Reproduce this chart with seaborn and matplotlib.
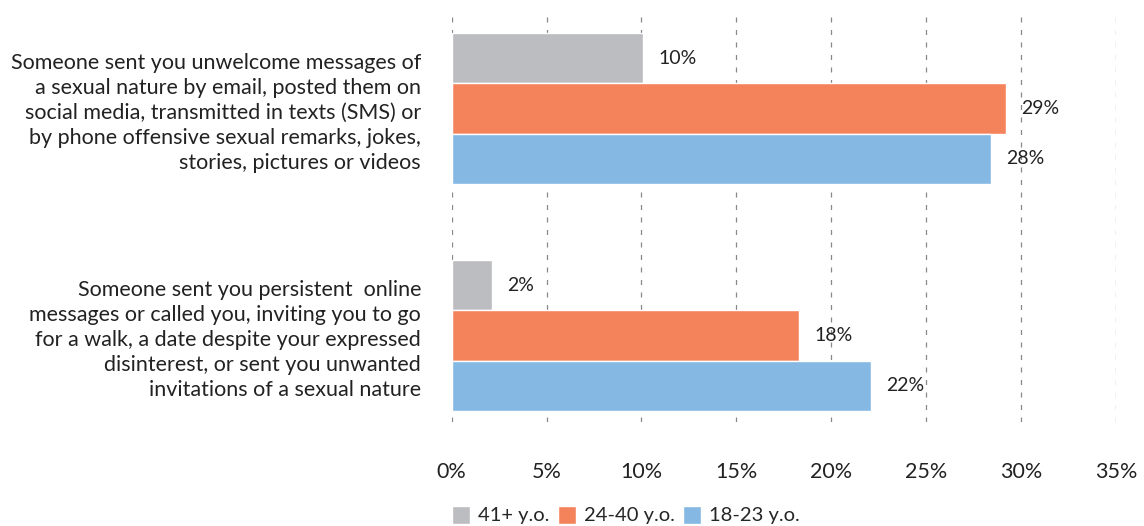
import matplotlib
matplotlib.use('Agg')
import matplotlib.pyplot as plt
import seaborn as sns
import pandas as pd
from matplotlib.ticker import FuncFormatter

categories = [
    "Someone sent you unwelcome messages of\na sexual nature by email, posted them on\n"
    "social media, transmitted in texts (SMS) or\nby phone offensive sexual remarks, jokes,\n"
    "stories, pictures or videos",
    "Someone sent you persistent  online\nmessages or called you, inviting you to go\n"
    "for a walk, a date despite your expressed\ndisinterest, or sent you unwanted\n"
    "invitations of a sexual nature",
]
age_groups = ["41+ y.o.", "24-40 y.o.", "18-23 y.o."]
vals_41 = [10.1, 2.1]
vals_24 = [29.2, 18.3]
vals_18 = [28.4, 22.1]
colors = ["#BCBDC0", "#F4835B", "#85B8E3"]

rows = []
for grp, vals in zip(age_groups, [vals_41, vals_24, vals_18]):
    for cat, v in zip(categories, vals):
        rows.append({"category": cat, "group": grp, "value": v})
df = pd.DataFrame(rows)

sns.set_style("white")
plt.rcParams['font.family'] = ['Lato', 'DejaVu Sans']

fig = plt.figure(figsize=(11.44, 5.26), dpi=100)
ax = fig.add_axes([0.3948, 0.198, 0.5807, 0.779])

sns.barplot(
    data=df, y="category", x="value", hue="group",
    hue_order=age_groups, palette=colors, orient="h",
    width=0.665, saturation=1, ax=ax, legend=True
)

for cont in ax.containers:
    ax.bar_label(cont, labels=[f"{b.get_width():.0f}%" for b in cont],
                 padding=11, fontsize=14, color="#222222")

ax.set_xlim(0, 35)
ax.set_ylim(1.38, -0.425)
ax.set_xticks(range(0, 36, 5))
ax.xaxis.set_major_formatter(FuncFormatter(lambda v, p: f"{v:.0f}%"))
ax.grid(axis="x", linestyle=(0, (4, 6)), color="#888888", linewidth=0.9)
ax.set_axisbelow(True)
for s in ax.spines.values():
    s.set_visible(False)
ax.tick_params(axis="x", length=0, pad=29, labelsize=15.5, labelcolor="#222222")
ax.tick_params(axis="y", length=0, pad=22, labelsize=15.5, labelcolor="#222222")
for t in ax.get_yticklabels():
    t.set_horizontalalignment("right")
    t.set_multialignment("right")
    t.set_linespacing(1.3)
ax.set_xlabel("")
ax.set_ylabel("")

handles, labels = ax.get_legend_handles_labels()
ax.get_legend().remove()
fig.legend(handles, labels, loc="center", bbox_to_anchor=(626 / 1144, 1 - 515 / 526),
           ncol=3, frameon=False, fontsize=14.5, handlelength=0.9, handleheight=1.0,
           handletextpad=0.4, columnspacing=0.4, borderaxespad=0)

fig.savefig("out.png", dpi=100)
